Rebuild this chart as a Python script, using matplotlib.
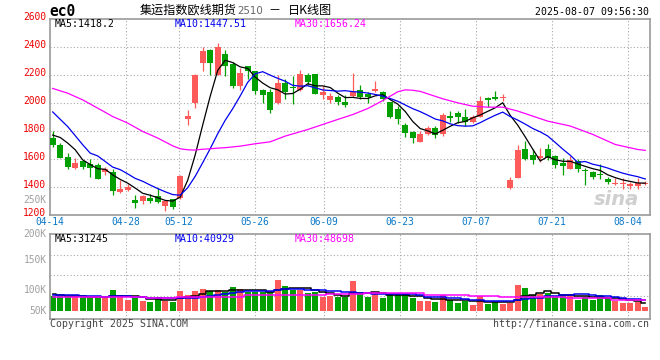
import numpy as np
import pandas as pd
import matplotlib
matplotlib.use("Agg")
import matplotlib.pyplot as plt
from matplotlib.transforms import blended_transform_factory, ScaledTranslation

# ---------------- data ----------------
dates = ["04-14", "04-15", "04-16", "04-17", "04-18", "04-21", "04-22", "04-23", "04-24", "04-25",
         "04-28", "04-29", "04-30", "05-06", "05-07", "05-08", "05-09", "05-12", "05-13", "05-14",
         "05-15", "05-16", "05-19", "05-20", "05-21", "05-22", "05-23", "05-26", "05-27", "05-28",
         "05-29", "05-30", "06-03", "06-04", "06-05", "06-06", "06-09", "06-10", "06-11", "06-12",
         "06-13", "06-16", "06-17", "06-18", "06-19", "06-20", "06-23", "06-24", "06-25", "06-26",
         "06-27", "06-30", "07-01", "07-02", "07-03", "07-04", "07-07", "07-08", "07-09", "07-10",
         "07-11", "07-14", "07-15", "07-16", "07-17", "07-18", "07-21", "07-22", "07-23", "07-24",
         "07-25", "07-28", "07-29", "07-30", "07-31", "08-01", "08-04", "08-05", "08-06", "08-07"]

open_ = [1750, 1695, 1614, 1531, 1583, 1560, 1557, 1505, 1507, 1360,
         1379, 1307, 1295, 1321, 1336, 1262, 1310, 1321, 1881, 2000,
         2288, 2379, 2202, 2350, 2281, 2119, 2262, 2226, 2095, 2079,
         2000, 2141, 2114, 2095, 2200, 2207, 2055, 2017, 2041, 2007,
         2050, 2095, 2064, 2088, 2076, 2007, 1957, 1838, 1793, 1721,
         1774, 1821, 1779, 1907, 1926, 1900, 1864, 1900, 2031, 2043,
         2033, 1393, 1460, 1671, 1626, 1607, 1671, 1621, 1569, 1524,
         1583, 1519, 1505, 1491, 1457, 1422, 1422, 1403, 1405, 1417]

high = [1798, 1712, 1643, 1607, 1591, 1595, 1567, 1541, 1524, 1448,
        1419, 1338, 1341, 1348, 1388, 1305, 1314, 1481, 1950, 2203,
        2400, 2386, 2429, 2381, 2291, 2250, 2267, 2231, 2100, 2100,
        2198, 2167, 2191, 2238, 2214, 2207, 2119, 2071, 2055, 2055,
        2214, 2131, 2076, 2155, 2083, 2007, 1976, 1857, 1798, 1798,
        1833, 1833, 1929, 1941, 1941, 1957, 1910, 2050, 2043, 2083,
        2060, 1469, 1700, 1726, 1667, 1679, 1707, 1626, 1607, 1619,
        1595, 1536, 1512, 1564, 1469, 1462, 1462, 1433, 1462, 1438]

low = [1683, 1602, 1524, 1524, 1524, 1471, 1452, 1483, 1338, 1357,
       1369, 1250, 1274, 1286, 1286, 1224, 1241, 1314, 1838, 1962,
       2231, 2198, 2198, 2191, 2107, 2091, 2171, 2060, 2000, 1929,
       1993, 2029, 1993, 2088, 2131, 2060, 2024, 2000, 1988, 1971,
       2043, 2024, 2000, 2079, 2012, 1893, 1845, 1755, 1714, 1721,
       1769, 1745, 1760, 1864, 1857, 1833, 1857, 1898, 1969, 2017,
       2012, 1386, 1460, 1593, 1560, 1579, 1593, 1536, 1481, 1524,
       1507, 1410, 1457, 1452, 1417, 1410, 1386, 1381, 1381, 1410]

close = [1698, 1607, 1543, 1567, 1543, 1531, 1457, 1524, 1367, 1381,
         1397, 1281, 1336, 1298, 1293, 1300, 1257, 1476, 1905, 2200,
         2369, 2286, 2400, 2267, 2119, 2214, 2231, 2088, 2055, 1952,
         2141, 2079, 2107, 2207, 2150, 2064, 2079, 2048, 2007, 1988,
         2074, 2041, 2045, 2102, 2029, 1898, 1881, 1781, 1745, 1774,
         1817, 1769, 1912, 1888, 1902, 1862, 1900, 2012, 2019, 2029,
         2043, 1448, 1662, 1600, 1591, 1619, 1602, 1552, 1545, 1588,
         1529, 1512, 1469, 1483, 1431, 1429, 1429, 1417, 1426, 1426]

# moving-average values visible before a full window exists
ma5_head = [1769, 1752, 1712, 1664]
ma10_head = [1935, 1882, 1830, 1765, 1700, 1640, 1620, 1580, 1540]
# 30-day average line (candle index, value)
ma30_idx = [0, 2, 4, 6, 8, 10, 12, 14, 16, 17, 18, 19, 20, 21, 22, 23, 25, 27, 29, 31,
            34, 36, 38, 40, 42, 44, 46, 47, 48, 49, 52, 54, 56, 58, 60, 62, 64, 66, 69, 72,
            75, 78, 79]
ma30_val = [2103, 2069, 2021, 1962, 1902, 1855, 1795, 1748, 1692, 1671, 1664, 1662, 1668, 1671,
            1676, 1679, 1690, 1707, 1721, 1762, 1809, 1845, 1881, 1916, 1959, 2016, 2079, 2093,
            2090, 2082, 2029, 2000, 1976, 1969, 1969, 1941, 1905, 1869, 1834, 1774, 1702, 1666,
            1660]

# volume bars in the units of the panel's own labels (K)
volume = [90.0, 90.0, 90.0, 90.0, 88.3, 86.1, 86.1, 87.2, 100.0, 91.7,
          83.3, 87.2, 81.7, 80.6, 88.9, 81.7, 80.6, 98.3, 91.7, 98.3,
          101.7, 98.3, 100.0, 96.1, 105.0, 101.7, 97.2, 96.1, 96.1, 96.1,
          116.7, 106.7, 100.0, 100.0, 94.4, 97.2, 88.9, 90.6, 88.9, 87.8,
          115.6, 92.8, 88.9, 94.4, 87.2, 92.8, 91.7, 92.8, 87.2, 81.7,
          81.7, 79.4, 91.7, 83.3, 78.9, 81.7, 75.0, 90.6, 76.7, 79.4,
          76.7, 78.9, 108.3, 103.9, 91.7, 93.3, 94.4, 90.6, 91.7, 91.7,
          83.3, 88.9, 83.3, 91.7, 87.2, 81.7, 78.9, 78.9, 80.6, 72.2]
vma5_head = [92.8, 91.5, 90.6, 90.0]
vma10_head = [91.5, 91.5, 91.2, 91.0, 90.6, 90.0, 89.5, 89.0, 89.5]
vma30 = [88.5] * 13 + [87.2] * 4 + [89.0] * 9 + [91.5] * 11 + [93.0] * 5 + [94.4] * 8 + \
        [91.7] * 6 + [90.6] * 4 + [88.9] * 2 + [87.8] * 7 + [86.1] * 6 + [83.3] * 5

tick_dates = ["04-14", "04-28", "05-12", "05-26", "06-09", "06-23", "07-07", "07-21", "08-04"]
price_ticks = [1200, 1400, 1600, 1800, 2000, 2200, 2400, 2600]
vol_labels = ["250K", "200K", "150K", "100K", "50K"]
vol_label_vals = [250, 193.5, 150, 100, 65]

price_ma_text = ["MA5:1418.2", "MA10:1447.51", "MA30:1656.24"]
vol_ma_text = ["MA5:31245", "MA10:40929", "MA30:48698"]

# ---------------- styling ----------------
W, H = 660, 360
RED = "#ff5a5a"
GREEN = "#00a000"
MA_COLORS = ["#000000", "#0000ee", "#ff00ff"]
GRID = "#a8a8a8"
BORDER = "#9a9a9a"
MONO = "DejaVu Sans Mono"
CJK = ["Noto Sans CJK SC", "DejaVu Sans"]
FS = 7.1
TFS = 6.9
VOL_BASE = 65.5

fig = plt.figure(figsize=(W / 100, H / 100), dpi=100)
fig.patch.set_facecolor("white")


def rect(l, t, r, b):
    return [l / W, 1 - b / H, (r - l) / W, (b - t) / H]


def ftext(x, y, s, **kw):
    kw.setdefault("va", "center")
    return fig.text(x / W, 1 - y / H, s, **kw)


axp = fig.add_axes(rect(50, 19, 649.5, 214.6))
axv = fig.add_axes(rect(50, 234.3, 649.5, 319))

n = len(dates)
x = np.arange(n)
o = np.array(open_, float)
c = np.array(close, float)
h = np.array(high, float)
l = np.array(low, float)
up = c >= o
cols = np.where(up, RED, GREEN)

grid_x = [dates.index(d) * 1.0133 - 0.36 for d in tick_dates]
xlim = (-0.36, 79.57)


def moving(vals, win, head):
    s = pd.Series(vals, dtype=float).rolling(win).mean().to_numpy()
    s[:win - 1] = head
    return s


for ax in (axp, axv):
    ax.set_xlim(*xlim)
    for sp in ax.spines.values():
        sp.set_color(BORDER)
        sp.set_linewidth(1.2)
    for gx in grid_x[1:]:
        ax.axvline(gx, color=GRID, lw=0.8, ls=(0, (1, 2)), zorder=0.5)

# ---- price panel ----
axp.set_ylim(1200, 2600)
for yv in price_ticks[1:-1]:
    axp.axhline(yv, color=GRID, lw=0.8, ls=(0, (1, 2)), zorder=0.5)

axp.vlines(x, l, h, colors=cols, lw=0.9, zorder=2)
body_h = np.maximum(np.abs(c - o), 5)
body_mid = (o + c) / 2
axp.bar(x, body_h, bottom=body_mid - body_h / 2, width=0.75, color=cols, lw=0, zorder=3)

ma5 = moving(close, 5, ma5_head)
ma10 = moving(close, 10, ma10_head)
axp.plot(x, ma5, color=MA_COLORS[0], lw=0.9, zorder=4)
axp.plot(x, ma10, color=MA_COLORS[1], lw=0.9, zorder=4)
axp.plot(ma30_idx, ma30_val, color=MA_COLORS[2], lw=0.9, zorder=4)

axp.set_yticks(price_ticks)
axp.set_yticklabels([str(t) for t in price_ticks], color="#ee0000", fontfamily=MONO, fontsize=TFS)
axp.set_xticks(grid_x)
axp.set_xticklabels(tick_dates, color="#0a78c8", fontfamily=MONO, fontsize=TFS)
axp.tick_params(axis="both", length=0)
axp.tick_params(axis="y", pad=3)
axp.tick_params(axis="x", pad=2)
up_shift = ScaledTranslation(0, 2.5 / 100, fig.dpi_scale_trans)
for lab in axp.get_yticklabels():
    lab.set_transform(lab.get_transform() + up_shift)

axp.text(0.982, 0.075, "sina", transform=axp.transAxes, ha="right", va="center",
         fontsize=14, fontweight="bold", style="italic", color="#cfcfcf", zorder=1)

# ---- volume panel ----
axv.set_ylim(51.7, 192.8)
for yv in (157.8, 124.5, 90.5):
    axv.axhline(yv, color=GRID, lw=0.8, ls=(0, (1, 2)), zorder=0.5)
vol = np.array(volume, float)
axv.bar(x, vol - VOL_BASE, bottom=VOL_BASE, width=0.75, color=cols, lw=0, zorder=2)
vma5 = moving(volume, 5, vma5_head)
vma10 = moving(volume, 10, vma10_head)
axv.plot(x, vma5, color=MA_COLORS[0], lw=1.1, drawstyle="steps-mid", zorder=3)
axv.plot(x, vma10, color=MA_COLORS[1], lw=1.1, drawstyle="steps-mid", zorder=3)
axv.plot(x, vma30, color=MA_COLORS[2], lw=1.1, drawstyle="steps-mid", zorder=3)
axv.set_xticks([])
axv.set_yticks([])

tr = blended_transform_factory(axv.transAxes, axv.transData)
for lab, v in zip(vol_labels, vol_label_vals):
    axv.text(-0.006, v, lab, transform=tr, ha="right", va="center", clip_on=False,
             color="#a0a0a0", fontfamily=MONO, fontsize=TFS)

# ---- header / labels ----
ftext(49, 11.5, "ec0", fontfamily=MONO, fontweight="bold", fontsize=10.5, color="black")
ftext(140, 10.5, "集运指数欧线期货", family=CJK, fontsize=8.7, color="black")
ftext(237, 11, "2510", family=["DejaVu Sans"], fontsize=7.4, color="#666666")
ftext(268, 10.5, "－", family=CJK, fontsize=8.7, color="black")
ftext(288, 10.5, "日K线图", family=CJK, fontsize=8.7, color="black")
ftext(649, 12, "2025-08-07 09:56:30", ha="right", fontfamily=MONO, fontsize=FS, color="black")

for xp, s, col in zip((55, 175, 295), price_ma_text, MA_COLORS):
    ftext(xp, 24, s, fontfamily=MONO, fontsize=FS, color=col)
for xp, s, col in zip((55, 175, 295), vol_ma_text, MA_COLORS):
    ftext(xp, 239, s, fontfamily=MONO, fontsize=FS, color=col)

ftext(50, 324, "Copyright 2025 SINA.COM", fontfamily=MONO, fontsize=FS, color="#444444")
ftext(649, 324, "http://finance.sina.com.cn", ha="right", fontfamily=MONO, fontsize=FS,
      color="#444444")

fig.savefig("out.png", dpi=100, facecolor="white")
